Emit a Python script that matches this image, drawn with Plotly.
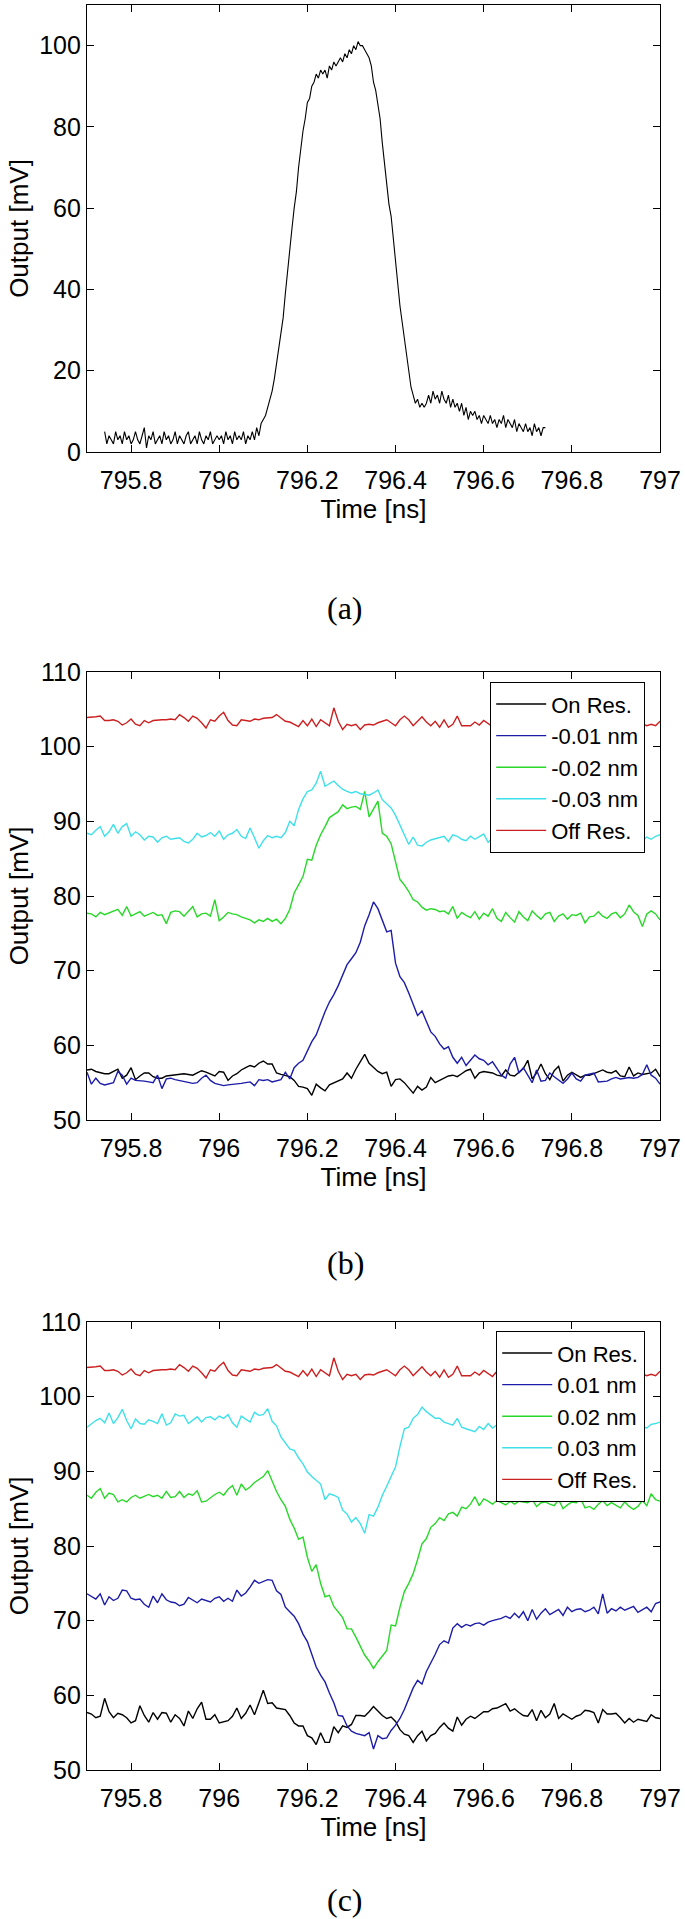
import numpy as np
import plotly.graph_objects as go

# ---------------- data ----------------
# panel (a): single pulse, t from 795.74 to 796.74 ns
pulse_a = [
    5,2,4,3,2,5,3,4,2,5, 3,4,2,3,5,3,2,4,6,1, 4,3,5,2,3,4,2,5,3,4,
    2,3,5,2,4,3,2,4,5,2, 3,4,2,5,3,2,4,3,5,2, 3,4,
    3,4,2,5,3,4,2,5,3,4, 3,5,2,4,3,5,3,6,4,7,
    8,9,11,13,15,18,22,25,29,33, 39,45,51,55,60,64,70,75,79,82,
    86,87,90,91,93,92,94,93,94,92, 95,94,96,95,96,97,96,98,97,99,
    98,100,99,101,100,100,99,98,97,95, 91,89,86,82,76,71,65,61,58,52,
    47,41,36,32,28,23,20,16,14,12, 13,11,12,11,12,14,12,15,13,14,
    12,15,13,12,14,11,13,11,12,10, 12,9,11,8,10,9,10,8,9,7,
    9,8,7,9,7,8,6,8,7,9, 6,8,7,6,8,5,7,6,5,7,
    5,6,4,7,5,6,4,6,6,
]
t_a_start, t_a_end = 795.74, 796.74

# panels (b) and (c): t from 795.70 to 797.00 ns, 0.01 ns steps
t_bc_start, t_bc_step = 795.70, 0.01

off_res = [
    103.9,103.9,104.0,104.1,103.5,103.5,103.6,103.4,102.9,103.2,
    103.7,103.0,102.8,103.5,103.2,103.5,103.6,103.6,103.6,103.7,
    103.6,104.3,103.9,103.4,104.1,103.8,103.2,102.5,103.6,103.4,
    104.1,104.6,103.5,102.9,102.8,103.6,103.5,103.4,103.7,103.6,
    103.8,103.9,103.9,104.3,103.8,103.4,103.3,103.0,102.7,103.5,
    102.8,103.7,102.7,103.6,103.2,102.8,105.2,103.4,102.3,103.0,
    102.8,103.0,102.3,102.9,103.0,102.9,103.2,103.4,103.6,103.2,
    102.8,103.6,104.1,103.6,102.8,103.4,104.0,103.3,102.8,103.4,
    102.6,103.6,102.6,103.0,104.1,102.8,102.8,102.8,103.3,102.9,
    103.5,103.1,102.7,103.4,103.0,103.6,102.9,103.3,103.0,102.6,
    103.4,103.1,103.7,102.9,103.2,103.5,102.8,103.3,103.0,103.6,
    102.9,103.2,103.4,102.8,103.1,103.5,102.9,103.3,103.0,103.4,
    102.8,103.2,103.5,103.0,102.9,103.3,103.1,102.8,103.0,102.8,
    103.4,
]

on_res_b = [
    56.7,56.8,56.5,56.3,56.2,56.2,56.5,56.8,55.6,56.0,
    57.0,55.4,55.9,56.3,56.3,55.8,55.6,55.6,55.9,56.0,
    56.1,56.2,56.2,56.1,56.0,56.3,56.6,56.4,56.1,55.9,
    56.5,56.4,55.3,55.9,56.2,56.7,57.0,57.3,57.1,57.6,
    57.9,57.5,57.5,56.3,56.1,56.0,55.8,55.3,54.5,54.4,
    54.2,53.3,54.8,54.3,53.9,54.7,55.0,55.3,55.5,56.3,
    55.6,56.8,57.9,58.8,57.6,57.1,56.5,56.2,56.4,54.5,
    55.4,55.5,55.0,54.3,53.6,54.5,54.0,54.4,55.7,55.0,
    55.3,55.6,55.9,56.0,55.8,56.2,56.6,56.8,55.6,56.3,
    56.5,56.4,56.3,56.0,55.9,56.7,56.0,55.9,56.4,56.9,
    58.0,55.5,56.3,57.5,56.2,55.4,56.6,57.2,55.2,56.0,
    56.4,56.0,55.7,56.0,56.0,56.2,56.5,56.7,56.4,56.3,
    56.6,55.9,55.8,57.1,55.9,56.3,56.1,56.2,56.3,56.8,
    55.8,
]

det_m001 = [
    56.4,54.8,55.6,54.9,54.7,54.8,55.0,56.5,56.0,54.8,
    55.6,55.3,55.3,55.2,55.1,55.0,56.0,54.2,55.5,55.6,
    55.4,55.3,55.2,55.0,54.9,55.0,55.6,56.0,55.3,54.9,
    54.8,54.6,54.7,54.8,54.9,54.9,55.0,55.1,54.6,55.4,
    55.3,55.4,55.1,55.3,55.4,56.4,55.5,57.0,57.6,58.0,
    59.3,60.5,61.4,63.0,64.5,65.8,66.8,68.0,69.5,70.8,
    71.6,72.4,73.8,76.0,77.5,79.2,78.3,76.6,75.2,75.4,
    71.0,69.2,68.4,67.0,65.6,64.0,64.6,63.2,61.8,61.2,
    60.2,59.5,59.8,58.4,57.6,58.4,57.3,58.0,58.7,58.2,
    58.0,57.4,57.8,56.9,56.0,55.6,57.5,58.4,56.3,57.0,
    56.0,55.0,56.7,55.2,55.3,56.3,55.8,55.4,54.9,55.5,
    56.3,55.5,55.2,56.0,56.2,56.3,55.1,55.2,55.2,55.5,
    55.7,55.5,55.6,55.7,55.6,55.7,56.1,57.4,56.0,55.6,
    54.8,
]

det_m002 = [
    77.7,77.6,77.2,77.8,77.5,77.7,78.0,78.2,77.4,78.6,
    77.3,77.6,77.9,77.3,77.6,77.8,77.4,77.5,76.3,77.8,
    78.0,77.9,77.3,78.0,78.6,77.2,77.6,77.7,77.3,79.5,
    76.7,77.2,77.8,77.6,77.5,77.2,77.0,76.8,76.4,76.8,
    76.6,77.0,76.6,76.9,76.3,77.0,78.2,80.4,81.5,82.6,
    84.9,84.8,86.8,88.2,89.3,90.5,90.9,91.3,92.2,91.7,
    91.9,92.0,91.6,94.0,90.6,91.7,92.7,88.4,88.0,87.0,
    84.5,82.2,81.5,80.6,79.5,79.2,78.5,78.1,78.3,78.2,
    77.9,78.0,77.6,78.6,77.0,77.8,77.4,77.1,77.9,76.9,
    77.7,77.3,78.3,77.0,76.6,77.8,77.1,76.5,77.9,77.2,
    76.7,78.0,77.4,76.9,77.6,77.8,76.6,77.3,77.6,76.9,
    77.5,77.4,77.7,76.4,77.2,77.3,77.9,77.3,77.0,77.6,
    77.8,77.1,77.6,78.8,77.9,77.4,75.9,77.6,78.0,77.6,
    76.8,
]

det_m003 = [
    88.4,88.2,88.8,89.3,88.0,88.6,89.6,88.4,89.3,89.7,
    88.0,88.6,88.2,87.5,88.0,87.9,87.2,87.8,88.0,87.6,
    87.7,87.8,87.3,87.1,87.6,88.4,87.9,88.1,88.5,88.0,
    88.7,87.6,88.2,88.4,88.9,88.0,87.7,89.1,87.8,86.4,
    87.4,88.1,87.8,88.0,87.8,88.5,90.0,89.4,91.6,93.0,
    94.0,94.2,95.1,96.7,94.7,95.0,95.4,94.8,94.3,94.0,
    93.8,94.0,93.7,93.6,93.5,93.8,94.2,92.9,92.4,91.8,
    90.8,89.5,88.0,86.9,87.9,86.8,86.7,87.2,87.5,87.7,
    87.9,88.0,87.3,88.2,88.0,87.6,87.4,88.0,87.6,87.9,
    88.3,87.2,87.8,88.4,87.5,88.0,87.3,87.9,88.2,87.6,
    87.9,87.1,88.0,87.5,88.3,87.4,87.8,86.5,87.6,88.1,
    87.3,87.9,87.5,88.2,87.0,87.7,88.0,87.4,87.9,87.2,
    87.8,88.1,87.3,86.5,87.6,88.0,87.4,87.9,87.6,88.0,
    88.2,
]

on_res_c = [
    57.7,57.5,57.0,57.2,59.6,57.8,57.0,57.6,57.4,57.0,
    56.3,56.6,58.6,57.3,56.4,57.7,56.8,57.7,57.6,56.4,
    57.4,56.9,55.9,57.9,56.9,58.2,59.1,56.8,56.8,57.4,
    56.3,56.5,56.6,57.2,58.3,56.9,57.6,58.7,57.4,59.0,
    60.7,58.9,59.0,58.3,58.2,58.1,57.3,56.3,55.9,55.9,
    54.6,54.3,53.4,55.0,53.7,53.7,55.8,55.0,55.9,55.7,
    56.1,57.3,57.3,57.2,57.8,58.5,57.9,57.3,56.9,57.1,
    56.5,55.4,54.8,54.6,53.7,54.6,55.2,53.9,54.6,54.9,
    55.7,56.3,55.6,55.2,57.1,56.0,56.8,57.2,56.9,57.3,
    57.8,57.8,58.2,58.3,58.6,58.9,57.9,58.2,57.7,57.3,
    57.2,58.1,56.6,58.0,57.0,57.5,58.9,56.9,57.5,57.2,
    56.8,57.2,57.4,58.0,57.9,57.7,56.3,58.1,57.5,57.5,
    57.6,57.0,56.3,56.9,56.4,56.8,56.6,56.5,57.4,57.0,
    56.9,
]

det_p001 = [
    73.6,73.2,72.9,73.6,72.1,73.2,72.7,73.0,74.1,74.0,
    73.0,72.8,72.9,72.2,71.8,73.3,72.4,73.6,72.8,72.5,
    72.4,72.0,72.2,73.1,72.7,72.4,72.9,72.7,72.5,73.0,
    73.2,72.6,73.0,72.6,74.1,73.3,73.7,74.5,75.4,75.0,
    75.2,75.5,75.4,74.0,73.5,71.8,71.2,70.6,69.6,68.2,
    67.2,65.4,63.8,62.7,61.8,60.3,59.0,57.3,57.2,55.9,
    55.2,54.9,54.8,54.6,55.0,52.8,54.6,54.2,54.3,55.3,
    56.0,56.9,58.1,59.6,61.0,62.0,61.5,63.2,64.3,65.5,
    66.8,67.3,67.0,69.0,69.6,69.1,69.5,69.3,69.6,69.7,
    69.4,69.8,70.0,70.1,70.3,70.6,70.3,71.0,70.4,71.2,
    70.0,71.5,70.2,71.0,71.6,70.8,71.2,71.5,70.7,71.8,
    71.2,71.5,71.6,71.2,71.4,71.8,70.9,73.6,71.0,71.6,
    71.3,71.8,71.4,71.6,71.9,71.1,71.5,71.8,71.2,72.3,
    72.5,
]

det_p002 = [
    86.8,86.4,87.2,87.7,86.4,87.1,86.9,85.9,86.2,85.9,
    86.5,86.8,86.4,86.7,86.9,86.6,86.8,86.4,87.3,86.5,
    86.6,87.3,86.5,87.0,86.8,87.4,85.9,86.0,86.5,86.9,
    87.2,86.8,87.6,88.1,86.8,88.3,87.5,87.9,88.5,88.9,
    89.3,90.1,88.6,87.3,86.2,85.3,83.6,82.4,80.9,81.2,
    78.5,76.6,77.5,75.0,73.2,73.4,71.9,71.2,70.4,68.9,
    68.9,67.8,66.6,65.4,64.6,63.6,64.5,65.3,66.0,69.4,
    69.3,71.8,73.9,75.0,76.3,78.2,80.3,81.0,82.5,83.0,
    83.8,83.4,84.3,84.5,84.0,85.2,85.0,85.6,86.6,85.4,
    86.3,86.0,85.6,86.1,85.8,85.5,86.0,85.6,86.0,85.9,
    85.8,86.2,85.3,85.8,85.9,85.6,85.4,86.2,85.0,85.5,
    85.9,85.8,86.3,85.1,85.3,84.9,85.6,86.1,85.4,85.8,
    85.5,85.1,85.9,85.3,84.9,85.3,86.1,85.4,87.0,86.2,
    86.0,
]

det_p003 = [
    95.9,96.4,96.8,97.1,96.5,97.8,96.4,97.2,98.3,96.8,
    95.7,97.0,96.4,96.3,96.9,96.7,96.4,97.7,96.2,96.5,
    97.7,97.4,97.5,96.4,96.9,97.3,96.6,97.2,97.3,96.9,
    97.4,97.1,97.6,96.5,95.9,97.4,97.0,96.6,97.9,97.5,
    97.6,98.4,96.7,96.1,94.6,93.8,93.0,92.8,91.8,91.0,
    89.9,89.3,88.8,88.3,86.2,87.0,86.8,86.5,84.8,84.3,
    83.2,83.8,83.0,81.7,84.2,84.0,85.2,86.8,88.0,89.2,
    90.6,93.3,95.7,95.9,97.1,97.6,98.6,98.0,97.5,97.1,
    97.1,96.6,96.4,96.2,97.1,95.9,95.7,95.5,95.3,96.0,
    95.6,96.4,95.8,96.2,95.5,96.3,96.0,95.7,96.5,95.9,
    96.1,95.6,96.4,95.8,96.2,96.0,95.5,96.3,95.9,96.1,
    95.7,96.4,95.8,96.0,96.3,95.6,96.2,95.9,96.0,95.7,
    96.3,95.8,96.1,95.6,96.2,95.9,96.0,95.8,96.3,96.4,
    96.6,
]

labels_b = ["On Res.", "-0.01 nm", "-0.02 nm", "-0.03 nm", "Off Res."]
labels_c = ["On Res.", "0.01 nm", "0.02 nm", "0.03 nm", "Off Res."]
series_b = [on_res_b, det_m001, det_m002, det_m003, off_res]
series_c = [on_res_c, det_p001, det_p002, det_p003, off_res]

x_tickvals = [795.8, 796.0, 796.2, 796.4, 796.6, 796.8, 797.0]
x_ticktext = ["795.8", "796", "796.2", "796.4", "796.6", "796.8", "797"]
y_ticks_a = [0, 20, 40, 60, 80, 100]
y_ticks_bc = [50, 60, 70, 80, 90, 100, 110]
panel_tags = ["(a)", "(b)", "(c)"]

# ---------------- styling ----------------
W, H = 685, 1919

def px(xp):   # page x pixel -> paper fraction
    return xp / W

def py(yp):   # page y pixel -> paper fraction
    return 1 - yp / H

colors = ["#000000", "#1c1ca8", "#28d828", "#3ee0ea", "#cc2020"]
SANS = "Liberation Sans, Arial, sans-serif"
SERIF = "Liberation Serif, Times New Roman, serif"
TICK_SIZE, TITLE_SIZE, LEG_SIZE = 25, 26, 22

x_dom = [px(87), px(660)]
frames = [(5, 452), (672, 1120), (1322, 1770)]  # top, bottom in page px
y_doms = [[py(b), py(t)] for t, b in frames]

t_a = np.linspace(t_a_start, t_a_end, len(pulse_a))
t_bc = np.round(t_bc_start + t_bc_step * np.arange(len(off_res)), 3)

fig = go.Figure()
fig.add_trace(go.Scatter(x=t_a, y=pulse_a, mode="lines",
                         line=dict(color="black", width=1.1),
                         showlegend=False, xaxis="x", yaxis="y"))
for lab, ser, col in zip(labels_b, series_b, colors):
    fig.add_trace(go.Scatter(x=t_bc, y=ser, mode="lines", name=lab,
                             line=dict(color=col, width=1.4),
                             xaxis="x2", yaxis="y2", legend="legend"))
for lab, ser, col in zip(labels_c, series_c, colors):
    fig.add_trace(go.Scatter(x=t_bc, y=ser, mode="lines", name=lab,
                             line=dict(color=col, width=1.4),
                             xaxis="x3", yaxis="y3", legend="legend2"))

def xaxis(i):
    return dict(domain=x_dom, anchor="y" if i == 0 else f"y{i+1}",
                range=[795.7, 797.0], tickvals=x_tickvals, ticktext=x_ticktext,
                showline=True, linecolor="black", linewidth=1.2, mirror="ticks",
                ticks="inside", ticklen=7, tickcolor="black", tickwidth=1.2,
                showgrid=False, zeroline=False, ticklabelstandoff=6,
                tickfont=dict(family=SANS, size=TICK_SIZE, color="black"),
                title=dict(text="Time [ns]", standoff=3,
                           font=dict(family=SANS, size=TITLE_SIZE, color="black")),
                automargin=False)

def yaxis(i):
    if i == 0:
        rng, tv = [0, 110], y_ticks_a
    else:
        rng, tv = [50, 110], y_ticks_bc
    return dict(domain=y_doms[i], anchor="x" if i == 0 else f"x{i+1}",
                range=rng, tickvals=tv,
                showline=True, linecolor="black", linewidth=1.2, mirror="ticks",
                ticks="inside", ticklen=7, tickcolor="black", tickwidth=1.2,
                showgrid=False, zeroline=False,
                tickfont=dict(family=SANS, size=TICK_SIZE, color="black"),
                title=dict(text="Output [mV]", standoff=3,
                           font=dict(family=SANS, size=TITLE_SIZE, color="black")),
                automargin=False)

layout = dict(width=W, height=H, template="none",
              margin=dict(l=0, r=0, t=0, b=0),
              paper_bgcolor="white", plot_bgcolor="white",
              font=dict(family=SANS, size=TICK_SIZE, color="black"))
for i in range(3):
    layout["xaxis" if i == 0 else f"xaxis{i+1}"] = xaxis(i)
    layout["yaxis" if i == 0 else f"yaxis{i+1}"] = yaxis(i)

leg_common = dict(xanchor="right", yanchor="top", bgcolor="white",
                  bordercolor="black", borderwidth=1.2,
                  font=dict(family=SANS, size=LEG_SIZE, color="black"),
                  tracegroupgap=0, itemwidth=50)
layout["legend"] = dict(x=px(645), y=py(682), **leg_common)
layout["legend2"] = dict(x=px(645), y=py(1331), **leg_common)

tag_y = [608, 1263, 1900]
layout["annotations"] = [
    dict(text=tag, x=px(345), y=py(yy), xref="paper", yref="paper",
         xanchor="center", yanchor="middle", showarrow=False,
         font=dict(family=SERIF, size=32, color="black"))
    for tag, yy in zip(panel_tags, tag_y)
]

fig.update_layout(**layout)
# remove the page's default 8px body margin so the figure sits at (0, 0)
fig.write_html("out.html",
               config={"displayModeBar": False},
               post_script="document.body.style.margin='0';"
                           "document.body.style.overflow='hidden';")
